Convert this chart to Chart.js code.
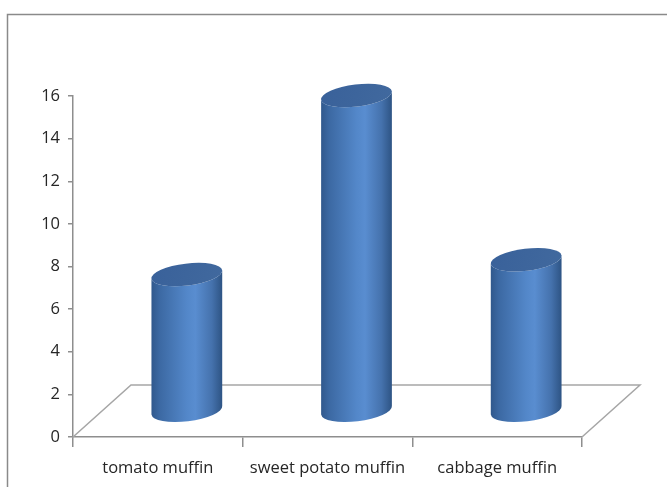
<!DOCTYPE html>
<html>
<head>
<meta charset="utf-8">
<script src="https://cdn.jsdelivr.net/npm/chart.js@4/dist/chart.umd.min.js"></script>
<style>
  html, body { margin: 0; padding: 0; background: #ffffff; }
  canvas { display: block; }
</style>
</head>
<body>
<canvas id="muffins" width="667" height="487"></canvas>
<script>
// Muffin survey data
const categories = ['tomato muffin', 'sweet potato muffin', 'cabbage muffin'];
const muffinValues = [6.4, 14.8, 7.1];
const yMin = 0;
const yMax = 16;
const yStep = 2;

// Oblique depth of the floor (pixels shifted right / up for the back edge)
const DEPTH_X = 58;
const DEPTH_Y = -52;
const AXIS_GREY = '#8e8e8e';
const LABEL_FONT = { family: 'Open Sans', size: 16.5 };

// Outer frame of the chart object
const framePlugin = {
  id: 'frame',
  beforeDraw(chart) {
    const ctx = chart.ctx;
    ctx.save();
    ctx.fillStyle = '#ffffff';
    ctx.fillRect(0, 0, chart.width, chart.height);
    ctx.strokeStyle = '#8a8a8a';
    ctx.lineWidth = 1.5;
    ctx.strokeRect(7.5, 14.5, chart.width + 20, chart.height + 20);
    ctx.restore();
  }
};

// Floor parallelogram of the 3-D plot area
const floorPlugin = {
  id: 'floor',
  beforeDatasetsDraw(chart) {
    const { ctx, chartArea } = chart;
    const y0 = chart.scales.y.getPixelForValue(0);
    const l = chartArea.left, r = chartArea.right;
    ctx.save();
    ctx.strokeStyle = '#a6a6a6';
    ctx.lineWidth = 1.5;
    ctx.beginPath();
    ctx.moveTo(l, y0);
    ctx.lineTo(l + DEPTH_X, y0 + DEPTH_Y);
    ctx.lineTo(r + DEPTH_X, y0 + DEPTH_Y);
    ctx.lineTo(r, y0);
    ctx.stroke();
    ctx.restore();
  }
};

// Cylinders standing in the middle of the floor depth
const cylinderPlugin = {
  id: 'cylinders',
  afterDatasetsDraw(chart) {
    const ctx = chart.ctx;
    const meta = chart.getDatasetMeta(0);
    const rot = -0.12;
    meta.data.forEach((bar) => {
      const cx = bar.x + DEPTH_X / 2;
      const topY = bar.y + DEPTH_Y / 2;
      const baseY = bar.base + DEPTH_Y / 2;
      const rx = bar.width / 2;
      const ry = rx * 0.31;

      ctx.save();
      // side
      const g = ctx.createLinearGradient(cx - rx, 0, cx + rx, 0);
      g.addColorStop(0, '#30588c');
      g.addColorStop(0.12, '#3c69a3');
      g.addColorStop(0.5, '#5387c9');
      g.addColorStop(0.62, '#598dd0');
      g.addColorStop(0.85, '#4572ad');
      g.addColorStop(1, '#2d5383');
      ctx.beginPath();
      ctx.ellipse(cx, baseY, rx, ry, rot, 0, Math.PI, false);
      ctx.ellipse(cx, topY, rx, ry, rot, Math.PI, 0, true);
      ctx.closePath();
      ctx.fillStyle = g;
      ctx.fill();

      // top cap
      const tg = ctx.createLinearGradient(cx - rx, topY - ry, cx + rx, topY + ry);
      tg.addColorStop(0, '#39619a');
      tg.addColorStop(1, '#41699e');
      ctx.beginPath();
      ctx.ellipse(cx, topY, rx, ry, rot, 0, Math.PI * 2);
      ctx.fillStyle = tg;
      ctx.fill();
      ctx.restore();
    });
  }
};

new Chart(document.getElementById('muffins'), {
  type: 'bar',
  data: {
    labels: categories,
    datasets: [{
      data: muffinValues,
      backgroundColor: 'rgba(0,0,0,0)',
      borderWidth: 0,
      categoryPercentage: 1.0,
      barPercentage: 0.42
    }]
  },
  options: {
    responsive: false,
    animation: false,
    events: [],
    layout: { padding: { left: 0, top: 96, right: 85, bottom: 0 } },
    plugins: {
      legend: { display: false },
      tooltip: { enabled: false },
      title: { display: false }
    },
    scales: {
      x: {
        offset: true,
        border: { display: true, color: AXIS_GREY, width: 1.5 },
        grid: {
          offset: true,
          drawOnChartArea: false,
          drawTicks: true,
          tickLength: 10,
          color: AXIS_GREY,
          lineWidth: 1.5
        },
        ticks: {
          padding: 11,
          color: '#262626',
          font: LABEL_FONT,
          maxRotation: 0
        },
        afterFit(scale) { scale.height = 50; }
      },
      y: {
        min: yMin,
        max: yMax,
        border: { display: true, color: AXIS_GREY, width: 1.5 },
        grid: {
          drawOnChartArea: false,
          drawTicks: true,
          tickLength: 5,
          color: AXIS_GREY,
          lineWidth: 1.5
        },
        ticks: {
          stepSize: yStep,
          padding: 8,
          color: '#262626',
          font: LABEL_FONT
        },
        afterFit(scale) { scale.width = 73; }
      }
    }
  },
  plugins: [framePlugin, floorPlugin, cylinderPlugin]
});
</script>
</body>
</html>
